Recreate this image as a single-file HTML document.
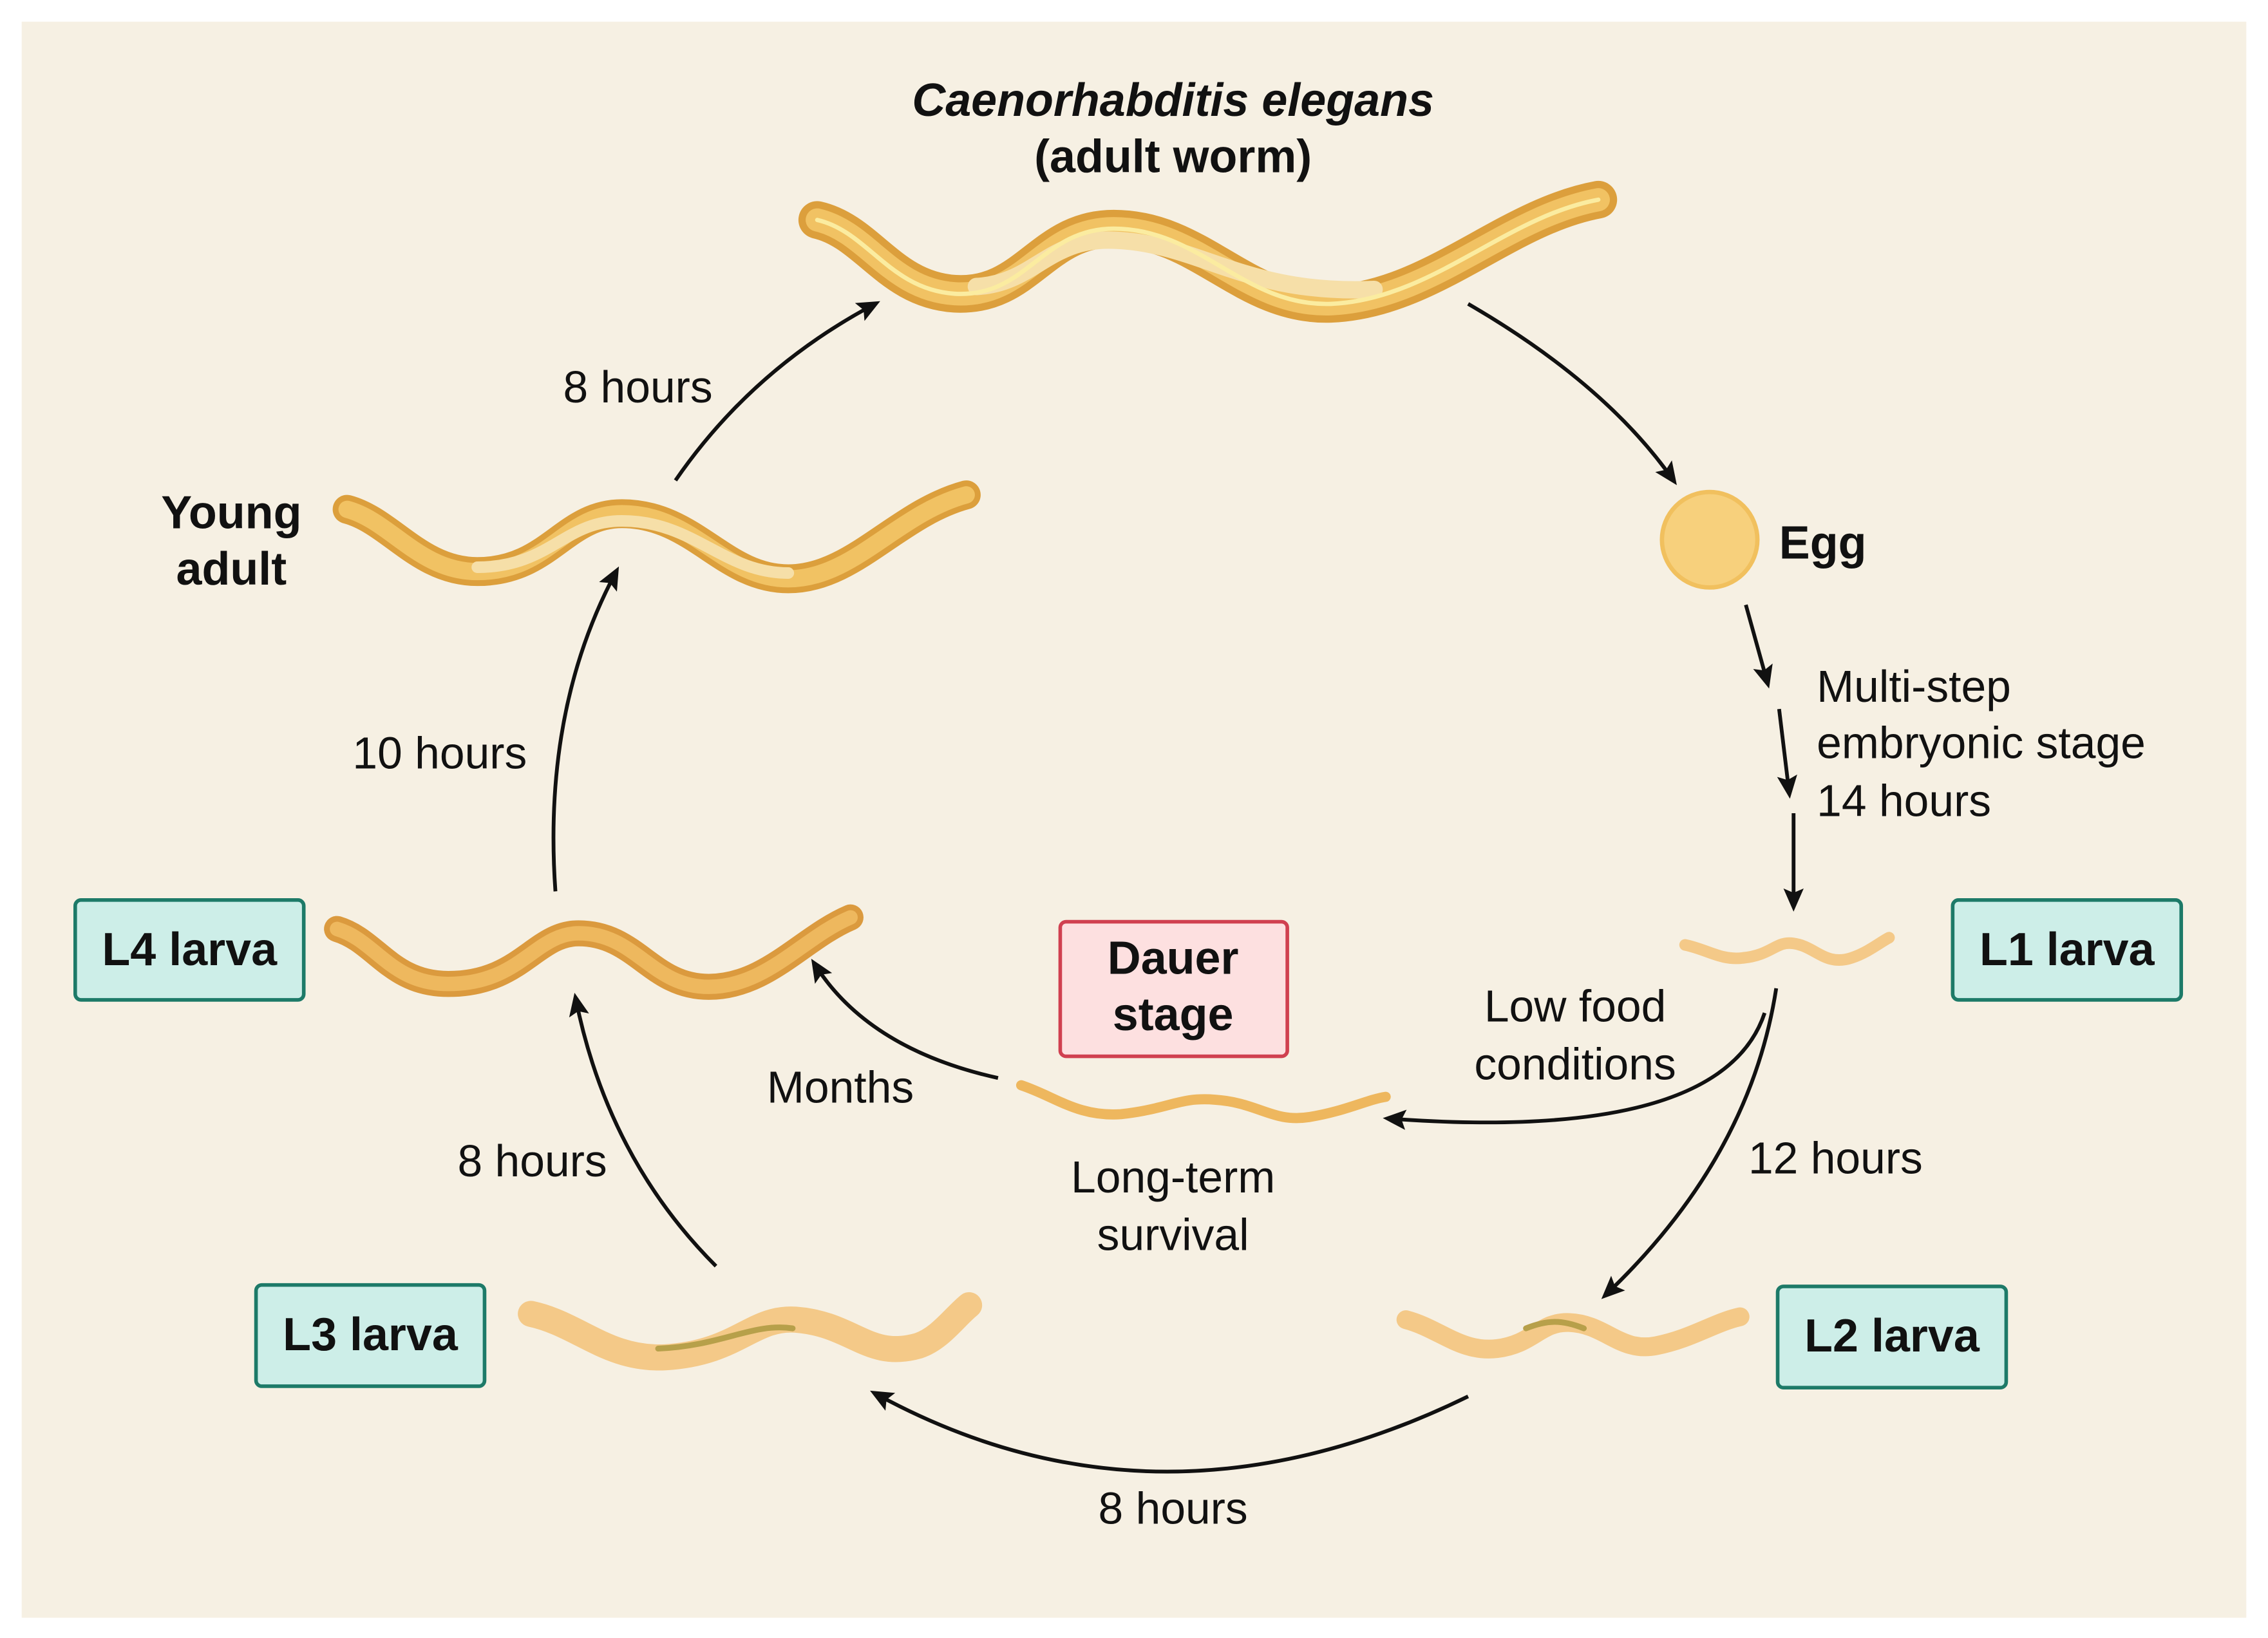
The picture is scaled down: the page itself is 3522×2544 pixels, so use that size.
<!DOCTYPE html>
<html><head><meta charset="utf-8"><style>
html,body{margin:0;padding:0;background:#fff}
svg{display:block}
text{font-family:"Liberation Sans",sans-serif;fill:#111}
.b{font-weight:bold}
</style></head><body>
<svg width="3522" height="2544" viewBox="0 0 1568 1132" preserveAspectRatio="none" xmlns="http://www.w3.org/2000/svg">
<defs>
<marker id="ah" markerWidth="16" markerHeight="14" refX="12" refY="7" orient="auto" markerUnits="userSpaceOnUse">
<path d="M0,0 L16,7 L0,14 L3,7 Z" fill="#111"/></marker>
</defs>
<rect x="0" y="0" width="1568" height="1132" fill="#fff"/>
<rect x="15" y="15" width="1538" height="1103" fill="#f6f0e3"/>

<g fill="none" stroke-linecap="round">
 <path d="M565,152 C600,160 615,200 660,203 C710,206 720,158 770,158 C830,158 860,212 920,210 C990,207 1040,150 1105,138" stroke="#dc9f3c" stroke-width="26"/>
 <path d="M565,152 C600,160 615,200 660,203 C710,206 720,158 770,158 C830,158 860,212 920,210 C990,207 1040,150 1105,138" stroke="#f1c263" stroke-width="16"/>
 <path d="M675,198 C715,196 725,164 770,166 C830,168 860,204 950,200" stroke="#f6dfa8" stroke-width="12"/>
 <path d="M565,152 C600,160 615,200 660,203 C710,206 720,158 770,158 C830,158 860,212 920,210 C990,207 1040,150 1105,138" stroke="#fbeca0" stroke-width="3"/>

 <path d="M240,352 C270,360 290,395 330,395 C380,395 390,355 430,355 C480,355 500,400 545,400 C590,400 620,355 668,342" stroke="#dc9f3c" stroke-width="20"/>
 <path d="M240,352 C270,360 290,395 330,395 C380,395 390,355 430,355 C480,355 500,400 545,400 C590,400 620,355 668,342" stroke="#f1c263" stroke-width="12"/>
 <path d="M330,392 C380,392 390,360 430,360 C480,360 500,396 545,396" stroke="#f6dfa8" stroke-width="8"/>

 <path d="M233,642 C260,650 270,680 310,680 C360,680 370,645 400,645 C440,645 450,682 490,682 C530,682 555,648 588,634" stroke="#db9a3e" stroke-width="18"/>
 <path d="M233,642 C260,650 270,680 310,680 C360,680 370,645 400,645 C440,645 450,682 490,682 C530,682 555,648 588,634" stroke="#eeb85e" stroke-width="10"/>

 <path d="M367,908 C400,915 420,940 460,938 C510,935 520,910 550,912 C590,915 600,940 635,930 C650,925 660,910 670,902" stroke="#f4c988" stroke-width="18"/>
 <path d="M455,932 C500,930 520,914 548,918" stroke="#b7a04a" stroke-width="4"/>

 <path d="M972,912 C995,918 1010,935 1035,932 C1060,929 1065,913 1085,914 C1110,915 1120,935 1145,930 C1170,925 1185,914 1203,910" stroke="#f4c988" stroke-width="13"/>
 <path d="M1055,918 C1070,912 1080,912 1095,918" stroke="#b7a04a" stroke-width="4"/>

 <path d="M1165,653 C1180,656 1190,664 1205,662 C1225,660 1228,650 1240,652 C1255,654 1262,668 1280,662 C1292,658 1300,651 1306,648" stroke="#f4c988" stroke-width="8"/>

 <path d="M706,750 C730,758 745,772 775,770 C810,766 815,758 840,760 C870,762 880,776 905,772 C930,768 945,760 958,758" stroke="#eeb75e" stroke-width="7"/>
</g>
<circle cx="1182" cy="373" r="33" fill="#f7d07c" stroke="#f1c05e" stroke-width="3"/>

<g fill="none" stroke="#111" stroke-width="2.6" marker-end="url(#ah)">
 <path d="M467,332 Q520,255 605,210"/>
 <path d="M1015,210 Q1110,265 1157,332"/>
 <path d="M1207,418 L1222,472"/>
 <path d="M1230,490 L1237,548"/>
 <path d="M1240,562 L1240,626"/>
 <path d="M1228,683 Q1210,800 1110,895"/>
 <path d="M1220,700 Q1190,790 960,773"/>
 <path d="M1015,965 Q800,1070 605,963"/>
 <path d="M495,875 Q420,800 398,690"/>
 <path d="M384,616 Q375,490 426,395"/>
 <path d="M690,745 Q600,725 563,666"/>
</g>

<g stroke-width="2.5">
 <rect x="52" y="622" width="158" height="69" rx="4" fill="#cdeee8" stroke="#1d7a68"/>
 <rect x="1350" y="622" width="158" height="69" rx="4" fill="#cdeee8" stroke="#1d7a68"/>
 <rect x="177" y="888" width="158" height="70" rx="4" fill="#cdeee8" stroke="#1d7a68"/>
 <rect x="1229" y="889" width="158" height="70" rx="4" fill="#cdeee8" stroke="#1d7a68"/>
 <rect x="733" y="637" width="157" height="93" rx="4" fill="#fde0e0" stroke="#d04050"/>
</g>

<g font-size="31">
 <text x="811" y="80" text-anchor="middle" class="b" font-style="italic" font-size="32">Caenorhabditis elegans</text>
 <text x="811" y="119" text-anchor="middle" class="b" font-size="32">(adult worm)</text>
 <text x="1230" y="386" class="b" font-size="32">Egg</text>
 <text x="160" y="365" text-anchor="middle" class="b" font-size="32">Young</text>
 <text x="160" y="404" text-anchor="middle" class="b" font-size="32">adult</text>
 <text x="131" y="667" text-anchor="middle" class="b" font-size="32">L4 larva</text>
 <text x="1429" y="667" text-anchor="middle" class="b" font-size="32">L1 larva</text>
 <text x="256" y="933" text-anchor="middle" class="b" font-size="32">L3 larva</text>
 <text x="1308" y="934" text-anchor="middle" class="b" font-size="32">L2 larva</text>
 <text x="811" y="673" text-anchor="middle" class="b" font-size="32">Dauer</text>
 <text x="811" y="712" text-anchor="middle" class="b" font-size="32">stage</text>
 <text x="441" y="278" text-anchor="middle">8 hours</text>
 <text x="1256" y="485">Multi-step</text>
 <text x="1256" y="524">embryonic stage</text>
 <text x="1256" y="564">14 hours</text>
 <text x="304" y="531" text-anchor="middle">10 hours</text>
 <text x="1089" y="706" text-anchor="middle">Low food</text>
 <text x="1089" y="746" text-anchor="middle">conditions</text>
 <text x="581" y="762" text-anchor="middle">Months</text>
 <text x="811" y="824" text-anchor="middle">Long-term</text>
 <text x="811" y="864" text-anchor="middle">survival</text>
 <text x="368" y="813" text-anchor="middle">8 hours</text>
 <text x="1269" y="811" text-anchor="middle">12 hours</text>
 <text x="811" y="1053" text-anchor="middle">8 hours</text>
</g>
</svg>
</body></html>
